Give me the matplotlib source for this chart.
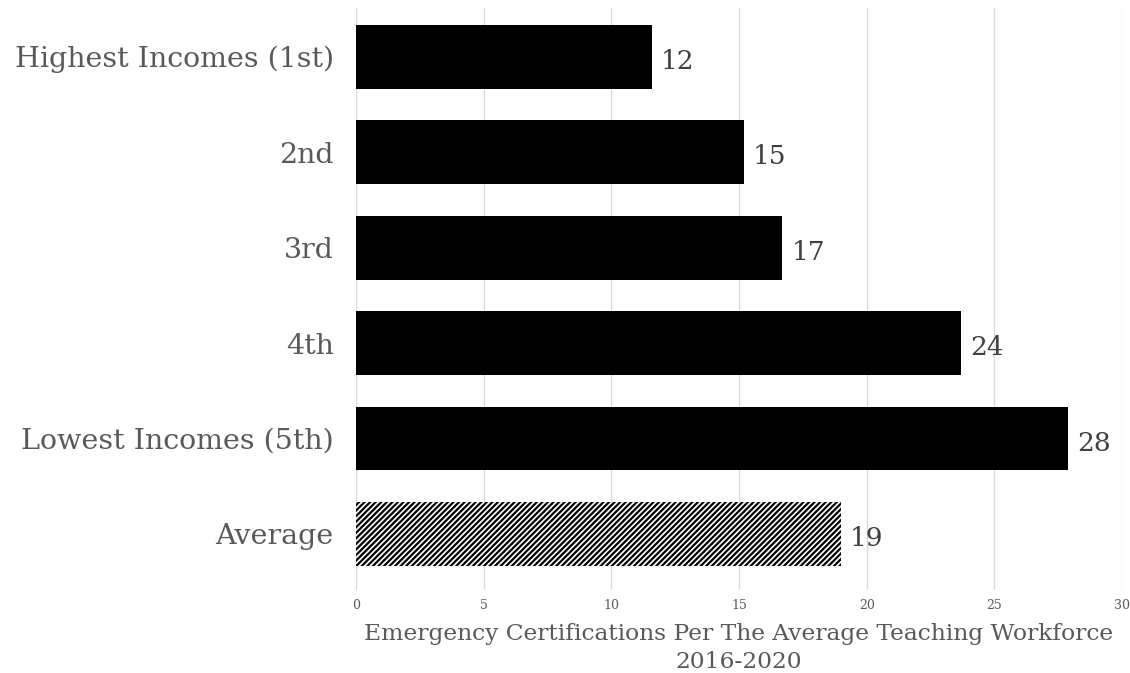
import matplotlib
matplotlib.use("Agg")
import matplotlib.pyplot as plt

categories = ["Highest Incomes (1st)", "2nd", "3rd", "4th",
              "Lowest Incomes (5th)", "Average"]
values = [11.6, 15.2, 16.7, 23.7, 27.9, 19.0]
xticks = [0, 5, 10, 15, 20, 25, 30]
xlabel = "Emergency Certifications Per The Average Teaching Workforce\n2016-2020"

plt.rcParams["font.family"] = ["DejaVu Serif"]
plt.rcParams["hatch.linewidth"] = 1.6

fig = plt.figure(figsize=(11.3, 6.73), dpi=100)
ax = fig.add_axes([0.315, 0.123, 0.678, 0.865])

ypos = list(range(len(categories)))
for y, v, name in zip(ypos, values, categories):
    if name == "Average":
        # hatched bar for the average row
        ax.barh(y, v, height=0.67, color="white", edgecolor="black",
                hatch="//////", linewidth=0, zorder=2)
    else:
        ax.barh(y, v, height=0.67, color="black", zorder=2)
    ax.text(v + 0.35, y + 0.05, f"{v:.0f}", va="center", ha="left",
            fontsize=19, color="#404040")

ax.set_ylim(len(categories) - 0.41, -0.51)
ax.set_xlim(0, 30)
ax.set_yticks(ypos)
ax.set_yticklabels(categories, fontsize=20.5, color="#595959")
ax.set_xticks(xticks)
ax.set_xticklabels([str(t) for t in xticks], fontsize=9, color="#595959")
ax.tick_params(axis="y", length=0, pad=16)
ax.tick_params(axis="x", length=0, pad=6)
ax.grid(axis="x", color="#d9d9d9", linewidth=1, zorder=0)
ax.set_axisbelow(True)
for s in ax.spines.values():
    s.set_visible(False)

ax.set_xlabel(xlabel, fontsize=16.8, color="#595959", labelpad=8,
              linespacing=1.4)

fig.savefig("out.png", dpi=100, facecolor="white")
